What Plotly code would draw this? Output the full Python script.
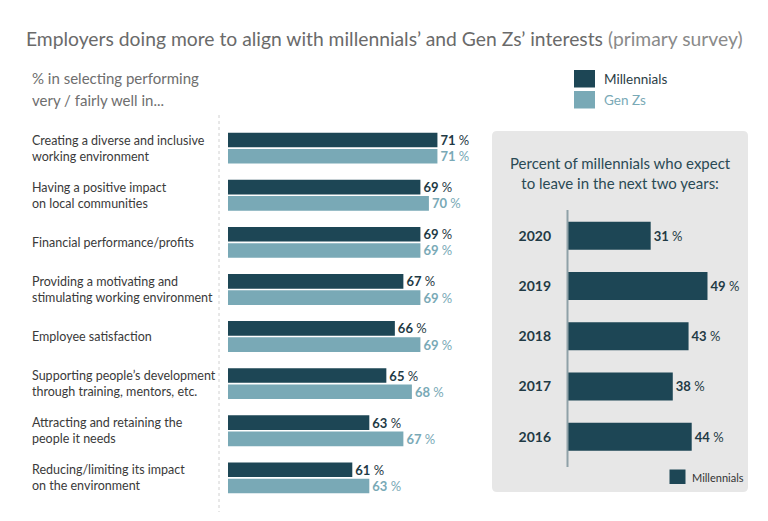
import plotly.graph_objects as go

# ---------------- data ----------------
categories = [
    "Creating a diverse and inclusive<br>working environment",
    "Having a positive impact<br>on local communities",
    "Financial performance/profits",
    "Providing a motivating and<br>stimulating working environment",
    "Employee satisfaction",
    "Supporting people’s development<br>through training, mentors, etc.",
    "Attracting and retaining the<br>people it needs",
    "Reducing/limiting its impact<br>on the environment",
]
millennials = [71, 69, 69, 67, 66, 65, 63, 61]
gen_zs = [71, 70, 69, 69, 69, 68, 67, 63]

years = ["2020", "2019", "2018", "2017", "2016"]
expect_leave = [31, 49, 43, 38, 44]

# ---------------- style ----------------
W, H = 768, 521
DARK = "#1d4655"
LIGHT = "#79a9b6"
FONT = "Lato"


def px(x):
    return x / W


def py(y):
    return 1 - y / H


fig = go.Figure()

fig.add_trace(go.Bar(
    y=categories, x=millennials, orientation="h", name="Millennials",
    marker=dict(color=DARK, line=dict(width=0)),
    texttemplate="<b>%{x}</b> %", textposition="outside",
    textfont=dict(family=FONT, size=13, color="#1f3a45"),
    constraintext="none", cliponaxis=False,
    xaxis="x", yaxis="y", showlegend=False,
))
fig.add_trace(go.Bar(
    y=categories, x=gen_zs, orientation="h", name="Gen Zs",
    marker=dict(color=LIGHT, line=dict(width=0)),
    texttemplate="<b>%{x}</b> %", textposition="outside",
    textfont=dict(family=FONT, size=13, color=LIGHT),
    constraintext="none", cliponaxis=False,
    xaxis="x", yaxis="y", showlegend=False,
))
fig.add_trace(go.Bar(
    y=years, x=expect_leave, orientation="h", name="Millennials",
    marker=dict(color=DARK, line=dict(width=0)),
    texttemplate="<b>%{x}</b> %", textposition="outside",
    textfont=dict(family=FONT, size=13, color="#1f3a45"),
    constraintext="none", cliponaxis=False,
    xaxis="x2", yaxis="y2", showlegend=False, width=0.56,
))

# ---------------- shapes ----------------
shapes = []
# grey rounded panel
x0, x1, y0, y1, r = 492, 748, 131, 492, 5
path = (
    f"M {px(x0 + r)},{py(y0)} L {px(x1 - r)},{py(y0)} "
    f"Q {px(x1)},{py(y0)} {px(x1)},{py(y0 + r)} "
    f"L {px(x1)},{py(y1 - r)} Q {px(x1)},{py(y1)} {px(x1 - r)},{py(y1)} "
    f"L {px(x0 + r)},{py(y1)} Q {px(x0)},{py(y1)} {px(x0)},{py(y1 - r)} "
    f"L {px(x0)},{py(y0 + r)} Q {px(x0)},{py(y0)} {px(x0 + r)},{py(y0)} Z"
)
shapes.append(dict(type="path", path=path, xref="paper", yref="paper",
                   fillcolor="#e7e7e7", line=dict(width=0), layer="below"))
# dotted separator
shapes.append(dict(type="line", xref="paper", yref="paper",
                   x0=px(219), x1=px(219), y0=py(115), y1=py(512),
                   line=dict(color="#d0d0d0", width=1, dash="dot")))
# right axis line
shapes.append(dict(type="line", xref="paper", yref="paper",
                   x0=px(567.5), x1=px(567.5), y0=py(210), y1=py(467),
                   line=dict(color="#8fa1a8", width=2)))
# legend swatches
shapes.append(dict(type="rect", xref="paper", yref="paper",
                   x0=px(574), x1=px(595), y0=py(70), y1=py(87.5),
                   fillcolor=DARK, line=dict(width=0)))
shapes.append(dict(type="rect", xref="paper", yref="paper",
                   x0=px(574), x1=px(595), y0=py(91), y1=py(108.5),
                   fillcolor=LIGHT, line=dict(width=0)))
shapes.append(dict(type="rect", xref="paper", yref="paper",
                   x0=px(669.5), x1=px(685.5), y0=py(469.5), y1=py(484),
                   fillcolor=DARK, line=dict(width=0)))

# ---------------- annotations ----------------
ann = []
ann.append(dict(
    x=px(24), y=py(38), xref="paper", yref="paper", xanchor="left", yanchor="middle",
    text="Employers doing more to align with millennials’ and Gen Zs’ interests "
         "<span style='color:#8a8a8a'>(primary survey)</span>",
    showarrow=False, font=dict(family=FONT, size=19.3, color="#6a6a6a"),
))
for txt, yy in [("% in selecting performing", 78), ("very / fairly well in...", 100)]:
    ann.append(dict(
        x=px(30), y=py(yy), xref="paper", yref="paper", xanchor="left", yanchor="middle",
        text=txt, align="left",
        showarrow=False, font=dict(family=FONT, size=15, color="#6e6e6e"),
    ))
ann.append(dict(
    x=px(602), y=py(79), xref="paper", yref="paper", xanchor="left", yanchor="middle",
    text="Millennials", showarrow=False, font=dict(family=FONT, size=13.5, color="#2a3d45"),
))
ann.append(dict(
    x=px(602), y=py(100), xref="paper", yref="paper", xanchor="left", yanchor="middle",
    text="Gen Zs", showarrow=False, font=dict(family=FONT, size=13.5, color=LIGHT),
))
ann.append(dict(
    x=px(620), y=py(173), xref="paper", yref="paper", xanchor="center", yanchor="middle",
    text="Percent of millennials who expect<br>to leave in the next two years:", align="center",
    showarrow=False, font=dict(family=FONT, size=15, color="#2a4a55"),
))
ann.append(dict(
    x=px(690), y=py(477), xref="paper", yref="paper", xanchor="left", yanchor="middle",
    text="Millennials", showarrow=False, font=dict(family=FONT, size=11, color="#333333"),
))
for c in categories:
    ann.append(dict(
        x=px(30), y=c, xref="paper", yref="y", xanchor="left", yanchor="middle",
        text=c, align="left", showarrow=False,
        font=dict(family=FONT, size=12.5, color="#3a3a3a"),
    ))

fig.update_layout(
    width=W, height=H, autosize=False,
    margin=dict(l=0, r=0, t=0, b=0),
    paper_bgcolor="white", plot_bgcolor="rgba(0,0,0,0)",
    barmode="group", bargap=0.31, bargroupgap=0.1,
    font=dict(family=FONT),
    shapes=shapes, annotations=ann,
    xaxis=dict(domain=[px(228), px(480)], range=[46.4, 76.0], visible=False, fixedrange=True),
    yaxis=dict(domain=[py(501.4), py(124.6)], autorange="reversed", visible=False,
               categoryorder="array", categoryarray=categories),
    xaxis2=dict(domain=[px(568), px(740)], range=[4.8, 59.3], visible=False, anchor="y2"),
    yaxis2=dict(domain=[py(461.8), py(210.7)], autorange="reversed", anchor="x2",
                showline=False, showgrid=False, zeroline=False, ticks="",
                ticklabelstandoff=16,
                tickfont=dict(family=FONT, size=14, color="#1f3a45", weight="bold"),
                categoryorder="array", categoryarray=years),
)

fig.write_html("out.html", config={"displayModeBar": False},
               post_script="document.body.style.margin='0';")
